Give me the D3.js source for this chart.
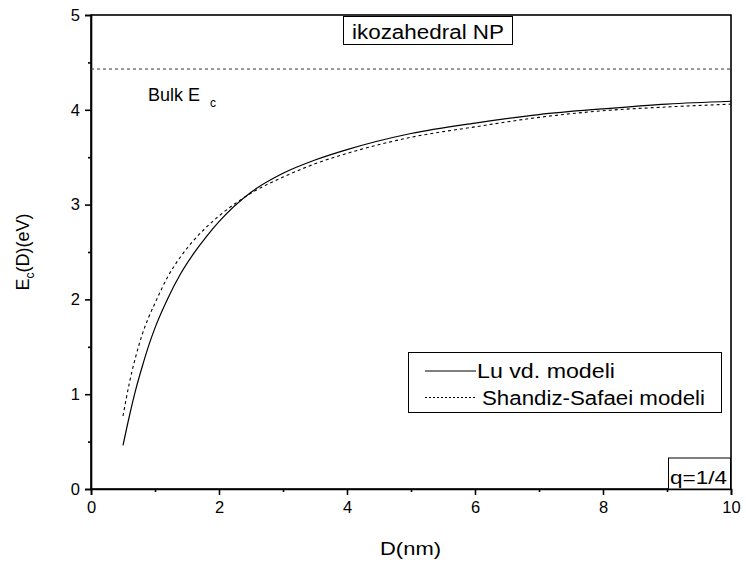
<!DOCTYPE html>
<html><head><meta charset="utf-8">
<script src="https://cdn.jsdelivr.net/npm/d3@7"></script>
<style>body{margin:0;background:#fff}svg{display:block}text{font-family:"Liberation Sans",Arial,sans-serif;fill:#000}</style>
</head><body>
<script>
const diameters = [0.5,0.6,0.7,0.8,0.9,1.0,1.2,1.4,1.6,1.8,2.0,2.5,3.0,3.5,4.0,5.0,6.0,7.0,8.0,9.0,10.0];
const luModel = [0.46,0.77,1.05,1.29,1.51,1.70,2.01,2.27,2.48,2.66,2.82,3.13,3.33,3.47,3.58,3.75,3.86,3.95,4.01,4.06,4.09];
const shandizModel = [0.77,1.12,1.40,1.63,1.81,1.96,2.24,2.45,2.62,2.76,2.88,3.12,3.29,3.43,3.54,3.71,3.82,3.92,3.99,4.03,4.06];
const bulkEc = 4.43;
const xTicks = [0,2,4,6,8,10];
const yTicks = [0,1,2,3,4,5];
const xMinor = [1,3,5,7,9];
const yMinor = [0.5,1.5,2.5,3.5,4.5];

const W=746,H=566;
const svg=d3.select("body").append("svg").attr("width",W).attr("height",H);
const x=d3.scaleLinear().domain([0,10]).range([91,731]);
const y=d3.scaleLinear().domain([0,5]).range([489,15]);

// frame
svg.append("rect").attr("x",x(0)).attr("y",y(5)).attr("width",x(10)-x(0)).attr("height",y(0)-y(5))
  .attr("fill","none").attr("stroke","#000").attr("stroke-width",1.6);

// axes
const xa=svg.append("g").attr("transform",`translate(0,${y(0)})`)
  .call(d3.axisBottom(x).tickValues(xTicks).tickSize(6).tickPadding(6).tickFormat(d3.format("d")));
const ya=svg.append("g").attr("transform",`translate(${x(0)},0)`)
  .call(d3.axisLeft(y).tickValues(yTicks).tickSize(6).tickPadding(5).tickFormat(d3.format("d")));
[xa,ya].forEach(a=>{a.select(".domain").attr("stroke-width",1.6);a.selectAll(".tick line").attr("stroke-width",1.6);
  a.selectAll("text").style("font-size","16.5px").style("font-family","'Liberation Sans',Arial,sans-serif");});
svg.append("g").attr("transform",`translate(0,${y(0)})`)
  .call(d3.axisBottom(x).tickValues(xMinor).tickSize(3).tickFormat(""))
  .call(g=>{g.select(".domain").remove();g.selectAll("line").attr("stroke-width",1.6);});
svg.append("g").attr("transform",`translate(${x(0)},0)`)
  .call(d3.axisLeft(y).tickValues(yMinor).tickSize(3).tickFormat(""))
  .call(g=>{g.select(".domain").remove();g.selectAll("line").attr("stroke-width",1.6);});

// bulk line
svg.append("line").attr("x1",x(0)).attr("x2",x(10)).attr("y1",y(bulkEc)).attr("y2",y(bulkEc))
  .attr("stroke","#333").attr("stroke-width",1).attr("stroke-dasharray","3,3");

const line=d3.line().x((d,i)=>x(diameters[i])).y(d=>y(d)).curve(d3.curveMonotoneX);
svg.append("path").attr("d",line(luModel)).attr("fill","none").attr("stroke","#000").attr("stroke-width",1.2);
svg.append("path").attr("d",line(shandizModel)).attr("fill","none").attr("stroke","#000").attr("stroke-width",1.1).attr("stroke-dasharray","3,3");

// bulk label
const bl=svg.append("text").attr("x",148).attr("y",101).style("font-size","18px");
bl.append("tspan").attr("textLength",52).attr("lengthAdjust","spacingAndGlyphs").text("Bulk E");
bl.append("tspan").attr("dx",10).attr("dy",6).style("font-size","12px").text("c");

// title box
svg.append("rect").attr("x",343.5).attr("y",16.5).attr("width",169).attr("height",28).attr("fill","#fff").attr("stroke","#000").attr("stroke-width",1);
svg.append("text").attr("x",352).attr("y",39).style("font-size","20px")
  .attr("textLength",152).attr("lengthAdjust","spacingAndGlyphs").text("ikozahedral NP");

// legend
svg.append("rect").attr("x",408.5).attr("y",352.5).attr("width",313).attr("height",60).attr("fill","#fff").attr("stroke","#000").attr("stroke-width",1);
const leg=[{t:"Lu vd. modeli",dash:null,yy:371,tx:477,len:138},{t:"Shandiz-Safaei modeli",dash:"2,2",yy:397.5,tx:482,len:223}];
leg.forEach(l=>{
  svg.append("line").attr("x1",425).attr("x2",476).attr("y1",l.yy).attr("y2",l.yy).attr("stroke","#000").attr("stroke-width",1).attr("stroke-dasharray",l.dash);
  svg.append("text").attr("x",l.tx).attr("y",l.yy+7).style("font-size","20px")
    .attr("textLength",l.len).attr("lengthAdjust","spacingAndGlyphs").text(l.t);
});

// q box
svg.append("rect").attr("x",668.5).attr("y",458).attr("width",62).attr("height",31).attr("fill","#fff").attr("stroke","#000").attr("stroke-width",1);
svg.append("text").attr("x",670).attr("y",484).style("font-size","19px")
  .attr("textLength",57).attr("lengthAdjust","spacingAndGlyphs").text("q=1/4");

// axis titles
svg.append("text").attr("x",380).attr("y",555).style("font-size","19px")
  .attr("textLength",61).attr("lengthAdjust","spacingAndGlyphs").text("D(nm)");
const yt=svg.append("text").attr("transform","translate(29,252) rotate(-90)").attr("text-anchor","middle").style("font-size","18px");
yt.append("tspan").text("E");
yt.append("tspan").attr("dy",5).style("font-size","12px").text("c");
yt.append("tspan").attr("dy",-5).text("(D)(eV)");
</script>
</body></html>
